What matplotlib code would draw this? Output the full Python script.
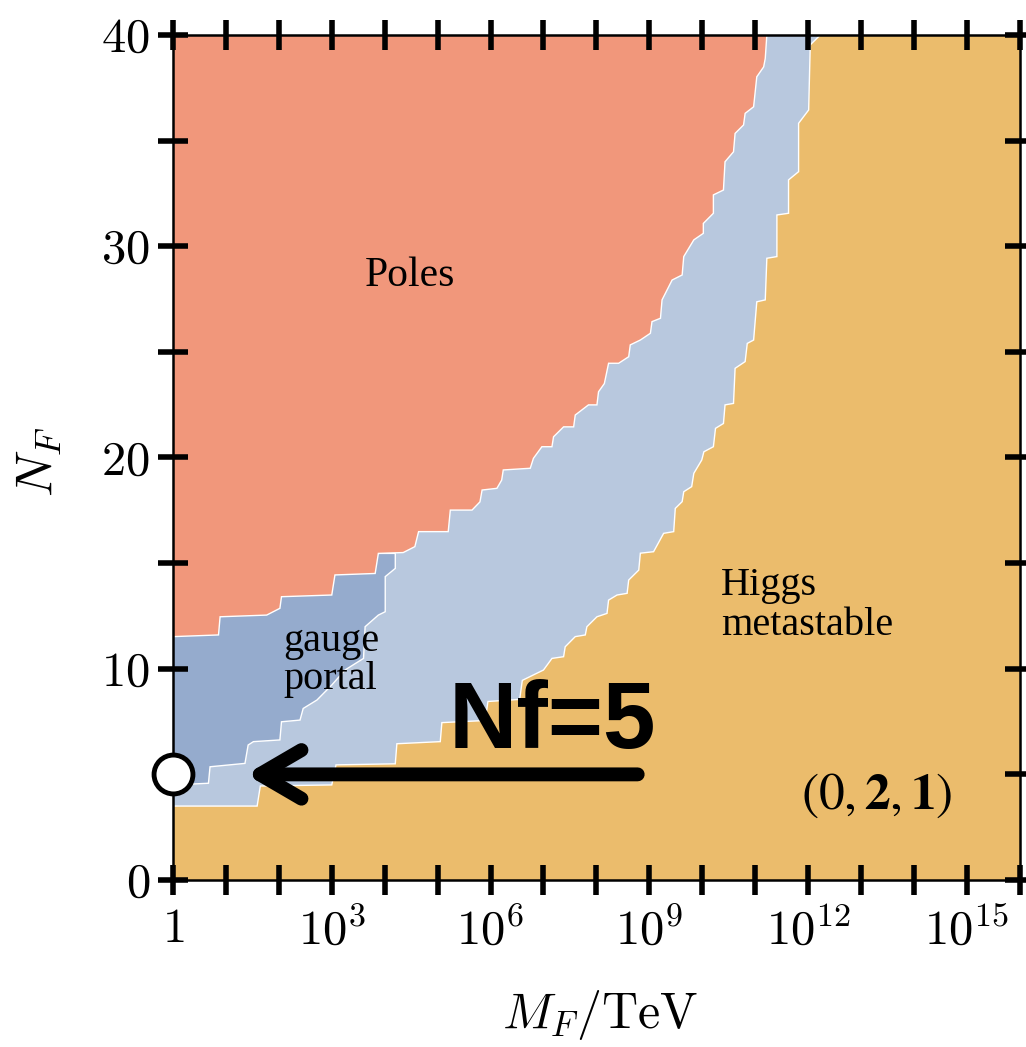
import matplotlib
matplotlib.use("Agg")
from matplotlib import pyplot as plt

plt.rcParams['mathtext.fontset'] = 'cm'
plt.rcParams['font.family'] = 'Liberation Serif'

# boundaries in (N_F, log10(M_F/TeV))
# right edge of the light blue band (Higgs metastable boundary)
meta_N = [3.50, 3.50, 4.45, 4.50, 5.45, 5.50, 6.45, 6.55, 7.45, 7.55, 8.45, 8.55, 9.45, 9.94,
          10.49, 10.57, 11.04, 11.52, 11.60, 11.99, 12.46, 12.62, 13.25, 13.49, 13.57, 14.20,
          14.67, 15.47, 15.54, 16.41, 16.49, 17.59, 17.91, 18.38, 18.62, 19.25, 19.88, 20.27,
          20.51, 21.38, 21.61, 22.49, 22.56, 24.22, 24.54, 25.40, 25.56, 27.37, 27.46, 29.43,
          29.51, 31.48, 31.56, 33.14, 33.53, 35.82, 36.45, 39.53, 40.00]
meta_M = [0.00, 1.59, 1.65, 3.00, 3.08, 4.20, 4.23, 5.05, 5.08, 5.90, 5.95, 6.55, 6.60, 7.00,
          7.16, 7.38, 7.41, 7.60, 7.79, 7.82, 8.01, 8.20, 8.23, 8.39, 8.58, 8.61,
          8.80, 8.83, 9.08, 9.27, 9.46, 9.49, 9.62, 9.65, 9.80, 9.84, 9.99, 10.03,
          10.21, 10.25, 10.40, 10.43, 10.59, 10.62, 10.81, 10.85, 10.97, 11.03, 11.19, 11.22,
          11.41, 11.41, 11.63, 11.63, 11.82, 11.82, 12.01, 12.04, 12.23]

# right edge of the poles region
poles_N = [11.52, 11.60, 12.46, 12.54, 12.86, 13.41, 13.49, 14.44, 14.51, 15.46, 15.50, 15.78,
           16.49, 16.49, 17.51, 17.51, 17.90, 18.46, 18.54, 18.93, 19.41, 19.49, 19.96, 20.51,
           20.51, 20.98, 21.45, 21.45, 22.01, 22.49, 22.49, 23.11, 23.50, 24.46, 24.46, 24.77,
           25.33, 25.56, 25.88, 26.43, 26.59, 27.46, 28.40, 28.64, 29.51, 30.30, 30.61, 31.08,
           31.56, 32.43, 32.66, 34.00, 34.47, 35.34, 35.74, 36.29, 36.60, 38.02, 38.49, 38.89, 40.00]
poles_M = [0.00, 0.86, 0.89, 1.77, 2.02, 2.05, 3.00, 3.06, 3.82, 3.88, 4.35, 4.57,
           4.64, 5.20, 5.24, 5.65, 5.80, 5.84, 6.12, 6.21, 6.24, 6.75, 6.81, 6.97,
           7.16, 7.19, 7.38, 7.57, 7.60, 7.85, 8.01, 8.04, 8.15, 8.23, 8.42, 8.61,
           8.64, 8.83, 9.02, 9.05, 9.21, 9.24, 9.43, 9.62, 9.65, 9.84, 10.02, 10.02,
           10.21, 10.21, 10.40, 10.43, 10.59, 10.62, 10.78, 10.81, 10.97, 11.03, 11.16, 11.19, 11.22]

# right edge of the gauge portal region
gauge_N = [4.50, 4.58, 5.36, 5.52, 6.39, 6.55, 6.63, 7.49, 7.57, 8.12, 8.52, 9.23, 9.94,
           10.49, 11.99, 12.54, 12.70, 14.36, 14.75, 15.46]
gauge_M = [0.00, 0.67, 0.70, 1.36, 1.42, 1.52, 2.02, 2.05, 2.40, 2.46, 2.72, 3.00, 3.25,
           3.60, 3.63, 3.88, 4.01, 4.01, 4.20, 4.20]

xtick_pos = list(range(17))
xtick_lab = ['$1$' if i == 0 else ('$10^{%d}$' % i if i % 3 == 0 else '') for i in xtick_pos]
ytick_pos = list(range(0, 41, 5))
ytick_lab = ['$%d$' % v if v % 10 == 0 else '' for v in ytick_pos]

nf_point = 5

c_orange = '#EBBC6C'
c_salmon = '#F1977B'
c_light = '#B8C8DE'
c_dark = '#95ABCD'

fig = plt.figure(figsize=(10.26, 10.47), dpi=100)
ax = fig.add_axes([0.1686, 0.1595, 0.8254, 0.8071])
ax.set_facecolor(c_orange)

ax.fill([0] + meta_M + [0], [meta_N[0]] + meta_N + [40], color=c_light, ec='white', lw=1.0)
ax.fill(gauge_M + [0], gauge_N + [gauge_N[-1]], color=c_dark, ec='white', lw=1.0)
ax.fill(poles_M + [0], poles_N + [40], color=c_salmon, ec='white', lw=1.0)

ax.set_xlim(0, 16)
ax.set_ylim(0, 40)

ax.set_xticks(xtick_pos)
ax.set_xticklabels(xtick_lab)
ax.set_yticks(ytick_pos)
ax.set_yticklabels(ytick_lab)
ax.tick_params(direction='inout', length=21, width=4, top=True, right=True,
               labelsize=35, color='black')
ax.tick_params(axis='x', pad=10)
ax.tick_params(axis='y', pad=6)
for s in ax.spines.values():
    s.set_linewidth(1.8)
    s.set_zorder(5)

ax.set_xlabel('$M_F/\\mathrm{TeV}$', fontsize=36)
ax.xaxis.set_label_coords(0.504, -0.128)
ax.set_ylabel('$N_F$', fontsize=37)
ax.yaxis.set_label_coords(-0.128, 0.495)

ax.text(4.48, 28.6, 'Poles', fontsize=30, ha='center', va='center')
ax.text(2.08, 10.4, 'gauge\nportal', fontsize=29, ha='left', va='center', linespacing=1.05)
ax.text(10.35, 13.0, 'Higgs\nmetastable', fontsize=29, ha='left', va='center', linespacing=1.1)
ax.text(13.3, 4.0, r'$(0,\mathbf{2},\mathbf{1})$', fontsize=37, ha='center', va='center',
        math_fontfamily='stix')

ax.text(5.2, 6.25, 'Nf=5', fontsize=68, fontweight='bold', family='Liberation Sans',
        ha='left', va='baseline')
ax.annotate('', xy=(1.38, nf_point), xytext=(8.78, nf_point),
            arrowprops=dict(arrowstyle='->,head_length=0.6,head_width=0.35', lw=10,
                            color='black', mutation_scale=50, shrinkA=0, shrinkB=0))
ax.plot([0], [nf_point], 'o', ms=28, mfc='white', mec='black', mew=3.5, clip_on=False, zorder=10)

plt.savefig('out.png', dpi=100)
